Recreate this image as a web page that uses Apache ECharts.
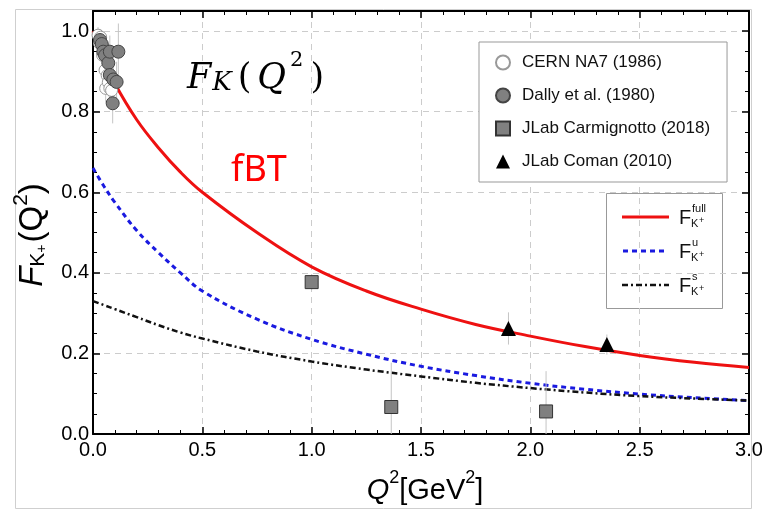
<!DOCTYPE html>
<html><head><meta charset="utf-8">
<script src="https://cdn.jsdelivr.net/npm/echarts@6/dist/echarts.min.js"></script>
<style>html,body{margin:0;padding:0;background:#fff}#c{width:769px;height:513px}</style>
</head><body><div id="c"></div>
<script>
// ---- curves ----
const q2Grid = [0, 0.05, 0.1, 0.2, 0.3, 0.4, 0.5, 0.75, 1.0, 1.25, 1.5, 1.75, 2.0, 2.25, 2.5, 2.75, 3.0];
const fFull  = [1.0, 0.93, 0.87, 0.78, 0.71, 0.65, 0.60, 0.50, 0.415, 0.355, 0.31, 0.272, 0.243, 0.217, 0.195, 0.178, 0.165];
const fU     = [0.66, 0.615, 0.575, 0.505, 0.45, 0.40, 0.355, 0.285, 0.235, 0.198, 0.168, 0.145, 0.126, 0.111, 0.099, 0.09, 0.083];
const fS     = [0.33, 0.32, 0.31, 0.29, 0.27, 0.252, 0.237, 0.205, 0.18, 0.16, 0.143, 0.127, 0.114, 0.103, 0.094, 0.088, 0.083];

// ---- data points ----
const cernQ2  = [0.023, 0.03, 0.035, 0.044, 0.05, 0.055, 0.058, 0.065, 0.07, 0.077, 0.085];
const cernF   = [0.99, 0.97, 0.985, 0.94, 0.958, 0.903, 0.858, 0.89, 0.873, 0.858, 0.853];
const cernErr = [0.02, 0.02, 0.02, 0.025, 0.025, 0.03, 0.035, 0.03, 0.035, 0.035, 0.04];

const dallyQ2  = [0.032, 0.04, 0.047, 0.055, 0.07, 0.077, 0.077, 0.093, 0.108, 0.116, 0.09];
const dallyF   = [0.978, 0.968, 0.949, 0.94, 0.921, 0.949, 0.891, 0.88, 0.874, 0.949, 0.821];
const dallyErr = [0.02, 0.02, 0.025, 0.025, 0.03, 0.04, 0.04, 0.045, 0.05, 0.07, 0.05];

const carmQ2  = [1.0, 1.364, 2.072];
const carmF   = [0.377, 0.067, 0.056];
const carmErr = [0.02, 0.11, 0.1];

const comanQ2  = [1.9, 2.35];
const comanF   = [0.262, 0.222];
const comanErr = [0.04, 0.025];

const xTicks = {min: 0, max: 3, interval: 0.5};
const yTicks = {min: 0, max: 1.05, interval: 0.2};

const pairs = (xs, ys) => xs.map((x, i) => [x, ys[i]]);
const errs = (xs, ys, es) => xs.map((x, i) => [x, ys[i] - es[i], ys[i] + es[i]]);
const allErr = [].concat(errs(cernQ2, cernF, cernErr), errs(dallyQ2, dallyF, dallyErr),
                         errs(carmQ2, carmF, carmErr), errs(comanQ2, comanF, comanErr));

const FONT = '"Liberation Sans", Arial, sans-serif';
const SERIF = '"DejaVu Serif", serif';
const chart = echarts.init(document.getElementById('c'));

const axisCommon = {
  type: 'value',
  axisLine: {show: true, onZero: false, lineStyle: {color: '#000', width: 2}},
  axisTick: {show: true, inside: true, length: 7, lineStyle: {color: '#000', width: 1.5}},
  minorTick: {show: true, length: 4, lineStyle: {color: '#000', width: 1}},
};

chart.setOption({
  animation: false,
  backgroundColor: '#fff',
  grid: {left: 93, right: 20, top: 11, bottom: 79},
  xAxis: [
    Object.assign({}, axisCommon, {
      position: 'bottom', min: xTicks.min, max: xTicks.max, interval: xTicks.interval,
      minorTick: Object.assign({}, axisCommon.minorTick, {splitNumber: 5}),
      splitLine: {show: true, lineStyle: {color: '#cccccc', type: [6, 5], width: 1}},
      axisLabel: {fontSize: 20, color: '#000', fontFamily: FONT, margin: 6,
                  formatter: v => v.toFixed(1)}
    }),
    Object.assign({}, axisCommon, {
      position: 'top', min: xTicks.min, max: xTicks.max, interval: xTicks.interval,
      minorTick: Object.assign({}, axisCommon.minorTick, {splitNumber: 5}),
      splitLine: {show: false}, axisLabel: {show: false}
    })
  ],
  yAxis: [
    Object.assign({}, axisCommon, {
      position: 'left', min: yTicks.min, max: yTicks.max, interval: yTicks.interval,
      minorTick: Object.assign({}, axisCommon.minorTick, {splitNumber: 4}),
      splitLine: {show: true, lineStyle: {color: '#cccccc', type: [6, 5], width: 1}},
      axisLabel: {fontSize: 20, color: '#000', fontFamily: FONT, margin: 4, showMaxLabel: false,
                  formatter: v => v.toFixed(1)}
    }),
    Object.assign({}, axisCommon, {
      position: 'right', min: yTicks.min, max: yTicks.max, interval: yTicks.interval,
      minorTick: Object.assign({}, axisCommon.minorTick, {splitNumber: 4}),
      splitLine: {show: false}, axisLabel: {show: false}
    })
  ],
  legend: {
    orient: 'vertical', left: 479, top: 42,
    data: ['CERN NA7 (1986)', 'Dally et al. (1980)', 'JLab Carmignotto (2018)', 'JLab Coman (2010)'],
    itemWidth: 14, itemHeight: 14, itemGap: 16,
    padding: [12, 17, 12, 16],
    borderColor: '#999', borderWidth: 1, backgroundColor: '#fff',
    textStyle: {fontSize: 17, color: '#111', fontFamily: FONT, padding: [0, 0, 0, 7]}
  },
  series: [
    {type: 'line', name: 'full', data: pairs(q2Grid, fFull), smooth: 0.4, showSymbol: false, symbol: 'none',
     lineStyle: {color: '#ee1111', width: 3}, z: 3},
    {type: 'line', name: 'u', data: pairs(q2Grid, fU), smooth: 0.4, showSymbol: false, symbol: 'none',
     lineStyle: {color: '#1a1ae0', width: 3, type: [5, 4]}, z: 3},
    {type: 'line', name: 's', data: pairs(q2Grid, fS), smooth: 0.4, showSymbol: false, symbol: 'none',
     lineStyle: {color: '#111', width: 2.5, type: [6, 3, 2, 3]}, z: 3},
    {type: 'custom', name: 'err', data: allErr, clip: true, z: 4,
     encode: {x: 0, y: [1, 2]},
     renderItem: (params, api) => {
       const p1 = api.coord([api.value(0), api.value(1)]);
       const p2 = api.coord([api.value(0), api.value(2)]);
       return {type: 'line', shape: {x1: p1[0], y1: p1[1], x2: p2[0], y2: p2[1]},
               style: {stroke: '#c4c4c4', lineWidth: 1}};
     }},
    {type: 'scatter', name: 'CERN NA7 (1986)', data: pairs(cernQ2, cernF), symbol: 'circle', symbolSize: 12,
     itemStyle: {color: '#fff', borderColor: '#999', borderWidth: 1, opacity: 1}, z: 5},
    {type: 'scatter', name: 'Dally et al. (1980)', data: pairs(dallyQ2, dallyF), symbol: 'circle', symbolSize: 13,
     itemStyle: {color: '#808080', borderColor: '#444', borderWidth: 1, opacity: 1}, z: 6},
    {type: 'scatter', name: 'JLab Carmignotto (2018)', data: pairs(carmQ2, carmF), symbol: 'rect', symbolSize: 13,
     itemStyle: {color: '#808080', borderColor: '#333', borderWidth: 1, opacity: 1}, z: 6},
    {type: 'scatter', name: 'JLab Coman (2010)', data: pairs(comanQ2, comanF), symbol: 'triangle', symbolSize: 15,
     itemStyle: {color: '#000', borderColor: '#000', borderWidth: 0, opacity: 1}, z: 6}
  ],
  graphic: [
    {type: 'rect', silent: true, z: -10, shape: {x: 15.5, y: 9.5, width: 736, height: 499},
     style: {fill: null, stroke: '#cfcfcf', lineWidth: 1}},
    // title F_K(Q^2)
    {type: 'text', left: 187, top: 50, z: 10, style: {
      text: '{i|F}{sub|K}{n|(}{q|Q}{sup|2}{n|)}',
      rich: {
        i: {fontFamily: SERIF, fontStyle: 'italic', fontSize: 35, fill: '#000', lineHeight: 46, verticalAlign: 'bottom', padding: [0, 1, 0, 0]},
        q: {fontFamily: SERIF, fontStyle: 'italic', fontSize: 35, fill: '#000', lineHeight: 46, verticalAlign: 'bottom', padding: [0, 3, 0, 4]},
        n: {fontFamily: SERIF, fontSize: 35, fill: '#000', lineHeight: 46, verticalAlign: 'bottom', padding: [0, 2, 0, 3]},
        sub: {fontFamily: SERIF, fontStyle: 'italic', fontSize: 26, fill: '#000', lineHeight: 22, verticalAlign: 'bottom', padding: [0, 3, 0, 0]},
        sup: {fontFamily: SERIF, fontSize: 21, fill: '#000', lineHeight: 17, verticalAlign: 'top', padding: [0, 4, 0, 1]}
      }}},
    {type: 'text', left: 231, top: 153, z: 10, style: {text: 'fBT', fontFamily: '"Noto Sans", sans-serif', fontSize: 36, fill: '#ff0000'}},
    // y axis name
    {type: 'text', x: 30, y: 235, rotation: Math.PI / 2, z: 10, style: {
      text: '{i|F}{sub|K}{subp|+}{n|(Q}{sup|2}{n|)}', align: 'center', verticalAlign: 'middle',
      rich: {
        i: {fontFamily: FONT, fontStyle: 'italic', fontSize: 33, fill: '#000', lineHeight: 38, verticalAlign: 'bottom'},
        n: {fontFamily: FONT, fontSize: 33, fill: '#000', lineHeight: 38, verticalAlign: 'bottom'},
        sub: {fontFamily: FONT, fontSize: 21, fill: '#000', lineHeight: 20, verticalAlign: 'bottom'},
        subp: {fontFamily: FONT, fontSize: 14, fill: '#000', lineHeight: 33, verticalAlign: 'bottom', padding: [0, 2, 0, 0]},
        sup: {fontFamily: FONT, fontSize: 21, fill: '#000', lineHeight: 20, verticalAlign: 'top'}
      }}},
    // x axis name
    {type: 'text', x: 425, y: 487, z: 10, style: {
      text: '{i|Q}{sup|2}{n|[GeV}{sup|2}{n|]}', align: 'center', verticalAlign: 'middle',
      rich: {
        i: {fontFamily: FONT, fontStyle: 'italic', fontSize: 29, fill: '#000', lineHeight: 36, verticalAlign: 'bottom'},
        n: {fontFamily: FONT, fontSize: 29, fill: '#000', lineHeight: 36, verticalAlign: 'bottom'},
        sup: {fontFamily: FONT, fontSize: 18, fill: '#000', lineHeight: 18, verticalAlign: 'top'}
      }}},
    // second legend (model curves)
    {type: 'group', left: 606, top: 193, z: 20, children: [
      {type: 'rect', shape: {x: 0.5, y: 0.5, width: 116, height: 115}, style: {fill: '#fff', stroke: '#999', lineWidth: 1}},
      {type: 'line', shape: {x1: 16, y1: 24, x2: 63, y2: 24}, style: {stroke: '#ee1111', lineWidth: 3}},
      {type: 'line', shape: {x1: 17, y1: 58, x2: 62, y2: 58}, style: {stroke: '#1a1ae0', lineWidth: 3, lineDash: [5, 4]}},
      {type: 'line', shape: {x1: 16, y1: 92, x2: 63, y2: 92}, style: {stroke: '#111', lineWidth: 2.5, lineDash: [6, 3, 2, 3]}},
      {type: 'text', x: 73, y: 15, style: {text: 'F', fontFamily: FONT, fontSize: 20, fill: '#111'}},
      {type: 'text', x: 86, y: 10, style: {text: 'full', fontFamily: FONT, fontSize: 11, fill: '#111'}},
      {type: 'text', x: 85, y: 25, style: {text: 'K', fontFamily: FONT, fontSize: 11, fill: '#111'}},
      {type: 'text', x: 93, y: 23, style: {text: '+', fontFamily: FONT, fontSize: 9, fill: '#111'}},
      {type: 'text', x: 73, y: 49, style: {text: 'F', fontFamily: FONT, fontSize: 20, fill: '#111'}},
      {type: 'text', x: 86, y: 44, style: {text: 'u', fontFamily: FONT, fontSize: 11, fill: '#111'}},
      {type: 'text', x: 85, y: 59, style: {text: 'K', fontFamily: FONT, fontSize: 11, fill: '#111'}},
      {type: 'text', x: 93, y: 57, style: {text: '+', fontFamily: FONT, fontSize: 9, fill: '#111'}},
      {type: 'text', x: 73, y: 83, style: {text: 'F', fontFamily: FONT, fontSize: 20, fill: '#111'}},
      {type: 'text', x: 86, y: 78, style: {text: 's', fontFamily: FONT, fontSize: 11, fill: '#111'}},
      {type: 'text', x: 85, y: 93, style: {text: 'K', fontFamily: FONT, fontSize: 11, fill: '#111'}},
      {type: 'text', x: 93, y: 91, style: {text: '+', fontFamily: FONT, fontSize: 9, fill: '#111'}}
    ]}
  ]
});
</script></body></html>
